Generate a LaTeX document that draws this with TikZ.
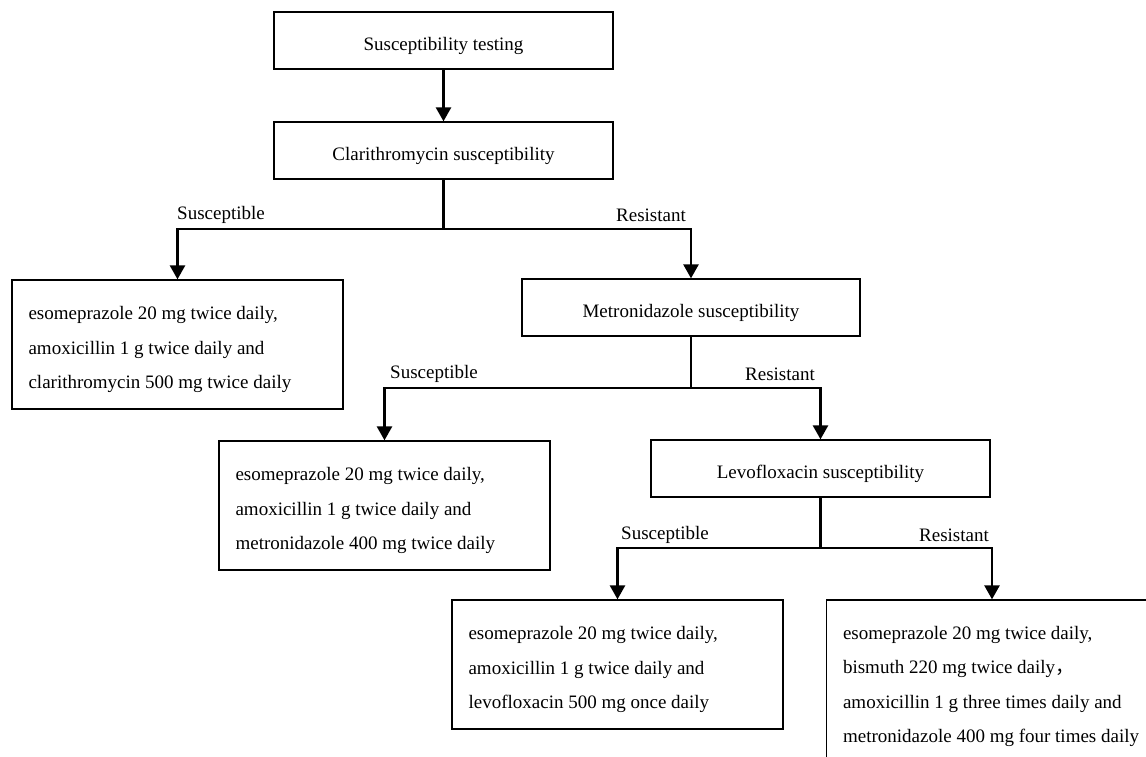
\documentclass[tikz,border=0pt]{standalone}
\usepackage{fontspec}
\setmainfont{Liberation Serif}
\newfontfamily\cjk{Noto Sans CJK SC}
\usetikzlibrary{arrows.meta}
\begin{document}
\begin{tikzpicture}[x=1pt,y=-1pt,
  sbox/.style={draw=black, line width=1.3pt, inner sep=0pt, minimum width=339pt, minimum height=57pt},
  tbox/.style={draw=black, line width=1.3pt, inner sep=0pt, minimum width=331pt, minimum height=129pt},
  txt/.style={font=\fontsize{19}{34.5}\selectfont, inner sep=0pt, align=left},
  lab/.style={font=\fontsize{19}{23}\selectfont, inner sep=0pt},
  ln/.style={line width=2.6pt},
  tip/.style={-{Triangle[width=15pt,length=14pt]}},
  tips/.style={{Triangle[width=15pt,length=14pt]}-{Triangle[width=15pt,length=14pt]}}
]
\clip (0,0) rectangle (1146,757);
\fill[white] (0,0) rectangle (1146,757);

% boxes
\node[sbox] (n1) at (443.5,40.5) {};
\node[txt, yshift=-5pt] (n1t) at (n1.center) {Susceptibility testing};

\node[sbox] (n2) at (443.5,150.5) {};
\node[txt, yshift=-5pt] (n2t) at (n2.center) {Clarithromycin susceptibility};

\node[tbox] (b3) at (177.5,344.5) {};
\node[txt, anchor=west, yshift=-5pt] (b3t) at ([xshift=17pt]b3.west)
  {esomeprazole 20 mg twice daily,\\amoxicillin 1 g twice daily and\\clarithromycin 500 mg twice daily};

\node[sbox, minimum width=338pt] (m) at (691,307.5) {};
\node[txt, yshift=-5pt] (mt) at (m.center) {Metronidazole susceptibility};

\node[tbox] (b4) at (384.5,505.5) {};
\node[txt, anchor=west, yshift=-5pt] (b4t) at ([xshift=17pt]b4.west)
  {esomeprazole 20 mg twice daily,\\amoxicillin 1 g twice daily and\\metronidazole 400 mg twice daily};

\node[sbox] (l) at (820.5,468.5) {};
\node[txt, yshift=-5pt] (lt) at (l.center) {Levofloxacin susceptibility};

\node[tbox] (b5) at (617.5,664.5) {};
\node[txt, anchor=west, yshift=-5pt] (b5t) at ([xshift=17pt]b5.west)
  {esomeprazole 20 mg twice daily,\\amoxicillin 1 g twice daily and\\levofloxacin 500 mg once daily};

\node[tbox, minimum height=162pt] (b6) at (992,681) {};
\node[txt, anchor=west, yshift=-5.5pt] (b6t) at ([xshift=17pt]b6.west)
  {esomeprazole 20 mg twice daily,\\bismuth 220 mg twice daily{\cjk ，}\\amoxicillin 1 g three times daily and\\metronidazole 400 mg four times daily};

% junctions
\coordinate (j1) at (443.5,229);
\coordinate (j2) at (691,388);
\coordinate (j3) at (820.5,548);

% connectors
\draw[ln, tip] (n1) -- (n2);
\draw[ln] (n2.south) -- (j1);
\draw[ln, tips] (b3.north) |- (j1) -| (m.north);
\draw[ln] (m.south) -- (j2);
\draw[ln, tips] (b4.north) |- (j2) -| (l.north);
\draw[ln] (l.south) -- (j3);
\draw[ln, tips] (b5.north) |- (j3) -| (b6.north);

% labels
\node[lab] (s1) at (221,215) {Susceptible};
\node[lab] (r1) at (651,215) {Resistant};
\node[lab] (s2) at (434,374) {Susceptible};
\node[lab] (r2) at (780,374) {Resistant};
\node[lab] (s3) at (665,535) {Susceptible};
\node[lab] (r3) at (954,535) {Resistant};
\end{tikzpicture}
\end{document}
